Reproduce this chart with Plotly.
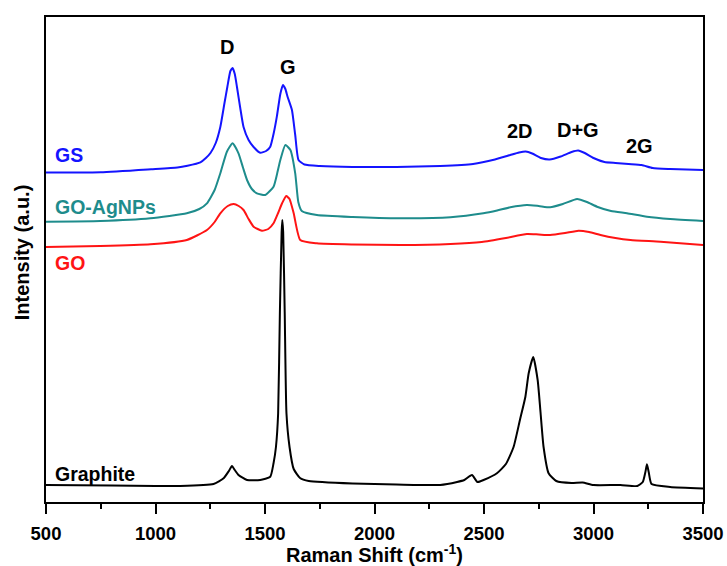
import plotly.graph_objects as go

# ---------------- data (Raman shift in cm-1, intensity in a.u., offsets included) -------------
gs_x = [500, 750, 980, 1100, 1146, 1205, 1230, 1251, 1275, 1296, 1315, 1328, 1342, 1352, 1362,
        1372, 1387, 1402, 1425, 1448, 1478, 1505, 1524, 1540, 1554, 1570, 1582, 1593, 1603, 1623,
        1638, 1653, 1680, 1750, 1900, 2100, 2300, 2450, 2550, 2620, 2660, 2690, 2720, 2760, 2800,
        2850, 2900, 2930, 2960, 3000, 3050, 3100, 3160, 3220, 3270, 3350, 3500]
gs_y = [329.5, 329.7, 332.7, 334.5, 336.3, 339.7, 344, 349, 359, 375, 399, 415, 431, 434, 428,
        415, 394, 375, 362, 355, 349.3, 351, 355.3, 369, 385.3, 408, 417, 413, 405.3, 392,
        367, 342, 337.5, 336, 335, 335, 336, 338, 342.5, 347, 349.5, 350.5, 348.5, 344, 342.5,
        345.5, 350, 351.5, 349, 344, 340, 339, 338, 337, 334, 333, 332]

goag_x = [500, 748, 977, 1143, 1200, 1235, 1270, 1296, 1326, 1352, 1379, 1400, 1418, 1440, 1463,
          1501, 1539, 1555, 1570, 1593, 1616, 1638, 1652, 1668, 1737, 1900, 2118, 2347, 2497, 2560,
          2620, 2696, 2750, 2802, 2860, 2925, 2970, 3016, 3080, 3153, 3244, 3350, 3500]
goag_y = [280.3, 281, 283.7, 288.7, 293, 298.7, 312, 328.7, 350.3, 358.7, 348.7, 334, 322, 313, 308.7,
          307, 315.3, 328, 342, 357, 352, 328.7, 300, 291, 287, 285, 283.7, 284.7, 288.7, 291.5,
          294.7, 297, 296, 294.7, 298, 303, 300, 295.3, 291, 288.7, 285.3, 283, 281]

go_x = [500, 748, 977, 1143, 1235, 1270, 1296, 1330, 1357, 1380, 1402, 1425, 1448, 1486, 1515,
        1539, 1560, 1578, 1597, 1612, 1631, 1661, 1737, 1900, 2118, 2347, 2490, 2600, 2696, 2750,
        2802, 2870, 2932, 2980, 3032, 3100, 3169, 3306, 3500]
go_y = [255, 256, 257.7, 262, 272, 280, 288.7, 296, 298, 296, 292, 283, 275.3, 271.3, 273,
        278.7, 289, 298.7, 306, 303, 288.7, 262, 258.7, 257.5, 257, 258, 260, 264, 268, 267.5,
        267, 269, 271.3, 270, 267, 264, 262, 260.3, 257]

graphite_x = [500, 800, 1000, 1113, 1265, 1311, 1335, 1349, 1362, 1379, 1418, 1478, 1524, 1539, 1550,
              1560, 1568, 1576, 1579, 1583, 1590, 1598, 1612, 1631, 1660, 1700, 1900, 2100, 2300, 2377,
              2410, 2445, 2470, 2498, 2559, 2600, 2635, 2664, 2689, 2704, 2725, 2745, 2758, 2772, 2795,
              2830, 2900, 2950, 3000, 3123, 3200, 3225, 3237, 3244, 3252, 3265, 3350, 3500]
graphite_y = [17, 16.5, 16, 16, 18, 23.7, 31, 36, 32, 27, 22, 22, 25.3, 38.7, 55,
              88.7, 190, 270, 282, 270, 190, 88.7, 55, 33, 24, 21, 18.5, 17.5, 17, 20,
              22, 27, 20, 22, 28.7, 38, 55, 82, 105.3, 128.7, 145, 122, 90, 55, 28.7,
              21, 19, 19.5, 17, 17, 16, 20, 30, 37.7, 30, 18, 15, 13.5]

x_tick_vals = [500, 1000, 1500, 2000, 2500, 3000, 3500]

series_names = ["GS", "GO-AgNPs", "GO", "Graphite"]
series_colors = ["#1414ff", "#1e8c8c", "#ff1414", "#000000"]

FONT = "Liberation Sans, Arial, sans-serif"

fig = go.Figure()
for name, xs, ys, col in zip(series_names,
                             [gs_x, goag_x, go_x, graphite_x],
                             [gs_y, goag_y, go_y, graphite_y],
                             series_colors):
    fig.add_trace(go.Scatter(x=xs, y=ys, mode="lines", name=name,
                             line=dict(color=col, width=2, shape="spline", smoothing=0.5),
                             showlegend=False))

# series labels
label_pos = {"GS": 347, "GO-AgNPs": 294.7, "GO": 238.7, "Graphite": 28}
for name, col in zip(series_names, series_colors):
    fig.add_annotation(x=530, y=label_pos[name], xref="x", yref="y", text=name,
                       showarrow=False, xanchor="left", yanchor="middle",
                       font=dict(family=FONT, size=19.5, color=col, weight="bold"))

# peak labels
peaks = [("D", 1326, 455), ("G", 1606, 435), ("2D", 2666, 371), ("D+G", 2931, 372), ("2G", 3210, 356)]
for t, px, py in peaks:
    fig.add_annotation(x=px, y=py, xref="x", yref="y", text=t, showarrow=False,
                       xanchor="center", yanchor="middle",
                       font=dict(family=FONT, size=20, color="black", weight="bold"))

# axis titles
fig.add_annotation(x=-0.0365, y=0.515, xref="paper", yref="paper", text="Intensity (a.u.)",
                   textangle=-90, showarrow=False, xanchor="center", yanchor="middle",
                   font=dict(family=FONT, size=20, color="black", weight="bold"))
fig.add_annotation(x=0.5, y=-0.106, xref="paper", yref="paper", text="Raman Shift (cm<sup>-1</sup>)",
                   showarrow=False, xanchor="center", yanchor="middle",
                   font=dict(family=FONT, size=20, color="black", weight="bold"))

fig.update_xaxes(range=[500, 3500], tickvals=x_tick_vals, ticks="outside", ticklen=10, tickwidth=2,
                 tickcolor="black", showline=True, linewidth=2, linecolor="black", mirror=True,
                 showgrid=False, zeroline=False, automargin=False, ticklabelstandoff=4,
                 minor=dict(dtick=250, tick0=500, ticks="outside", ticklen=5, tickwidth=2,
                            tickcolor="black", showgrid=False),
                 tickfont=dict(family=FONT, size=18.5, color="black", weight="bold"))
fig.update_yaxes(range=[0, 485], showticklabels=False, ticks="", showline=True, linewidth=2,
                 linecolor="black", mirror=True, showgrid=False, zeroline=False, automargin=False)

fig.update_layout(width=727, height=566, margin=dict(l=46, r=24, t=17, b=64),
                  paper_bgcolor="white", plot_bgcolor="white")

fig.write_html("out.html")
